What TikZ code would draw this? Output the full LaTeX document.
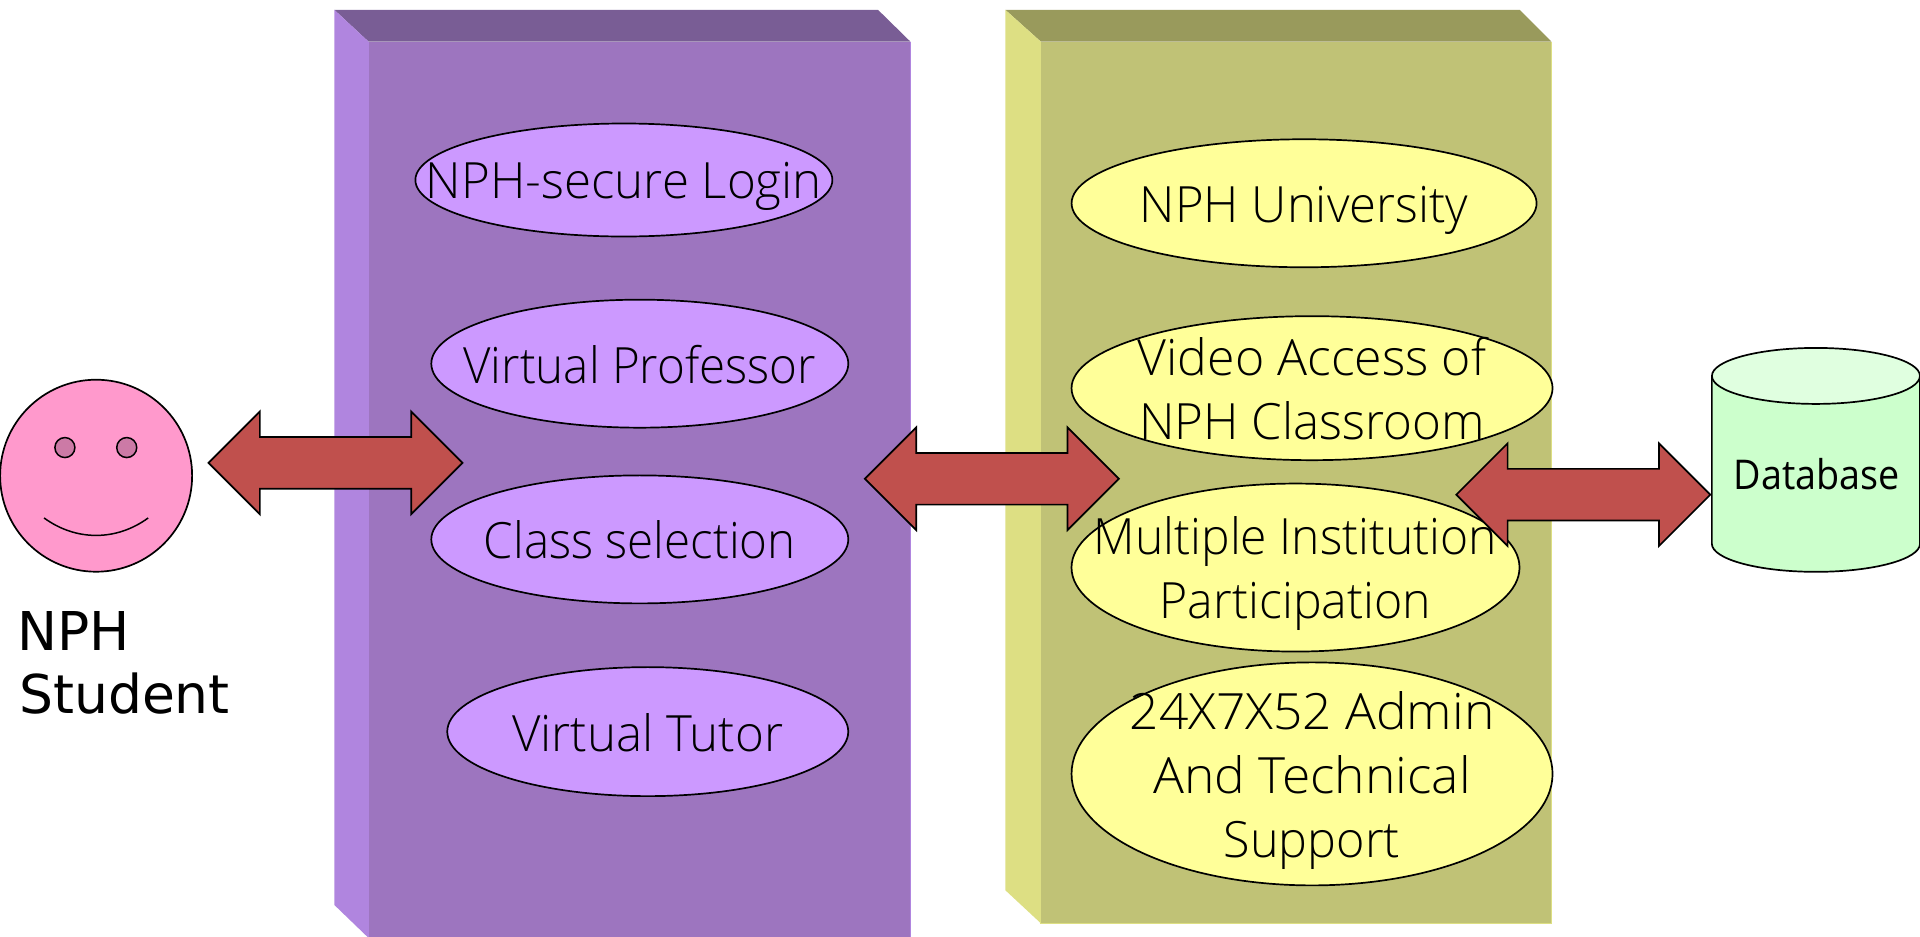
\documentclass[tikz,border=0pt]{standalone}
\usepackage{fontspec}
\usepackage{graphicx}
\usetikzlibrary{shapes.geometric,shapes.arrows}
\setmainfont{Open Sans Light}
\newfontfamily\labelfont{DejaVu Sans}
\newfontfamily\dbfont{Open Sans}
\definecolor{pfront}{HTML}{9D75BF}
\definecolor{ptop}{HTML}{795D95}
\definecolor{pside}{HTML}{B085DF}
\definecolor{yfront}{HTML}{C0C276}
\definecolor{ytop}{HTML}{999A5C}
\definecolor{yside}{HTML}{DDDF83}
\definecolor{pell}{HTML}{CC99FF}
\definecolor{yell}{HTML}{FFFF99}
\definecolor{arrowred}{HTML}{C0504D}
\definecolor{smileface}{HTML}{FF99CC}
\definecolor{smileeye}{HTML}{CC7AA6}
\definecolor{dbbody}{HTML}{CCFFCC}
\definecolor{dbtop}{HTML}{E0FFE0}
% text centred on the ellipse; #1 = drop of the last baseline below centre (px), #2 = lines
\newcommand{\elltext}[2]{\smash{\makebox[0pt]{\raisebox{-#1pt}{\parbox[b]{700pt}{\centering\fontsize{50}{64}\selectfont #2}}}}}
\newcommand{\sx}[2]{\scalebox{#1}[1]{#2}}
\tikzset{
  oval/.style={shape=ellipse,draw=black,line width=1.7pt,inner sep=0pt,outer sep=0pt},
  poval/.style={oval,fill=pell},
  yoval/.style={oval,fill=yell},
  blockarrow/.style={shape=double arrow,draw=black,line width=1.7pt,fill=arrowred,
    minimum height=254pt,minimum width=101pt,double arrow head extend=25.5pt,
    inner sep=0pt,text height=50pt,text depth=0pt,text width=0pt},
}
\begin{document}
\begin{tikzpicture}[x=1.22449pt,y=-1.22449pt]
\useasboundingbox (0,0) rectangle (1568,765.2);
% purple block
\fill[ptop] (273,8) -- (717,8) -- (743.5,34) -- (301,34) -- cycle;
\fill[pside] (273,8) -- (301,34) -- (301,766) -- (273,739) -- cycle;
\fill[pfront] (301,34) rectangle (743.5,766);
\draw[pside,line width=1pt] (301,34) -- (301,766);
\draw[pside,line width=1pt] (743.5,34) -- (743.5,766);
% yellow block
\fill[ytop] (821,8) -- (1241,8) -- (1267,34) -- (850,34) -- cycle;
\fill[yside] (821,8) -- (850,34) -- (850,754) -- (821,727) -- cycle;
\fill[yfront] (850,34) rectangle (1267,754);
\draw[yside,line width=1pt] (850,34) -- (850,754) -- (1267,754) -- (1267,34);
% purple ellipses
\node[poval,minimum width=417pt,minimum height=113pt] (login) at (509.5,147) {\elltext{18.5}{\sx{.985}{NPH-secure Login}}};
\node[poval,minimum width=417pt,minimum height=128pt] (prof) at (522.5,297) {\elltext{19.5}{\sx{.95}{Virtual Professor}}};
\node[poval,minimum width=417pt,minimum height=128pt] (class) at (522.5,440.5) {\elltext{19.5}{\sx{.95}{Class selection}}};
\node[poval,minimum width=401pt,minimum height=129pt] (tutor) at (529,597.5) {\elltext{19.5}{\sx{.985}{Virtual Tutor}}};
% yellow ellipses
\node[yoval,minimum width=465pt,minimum height=128pt] (univ) at (1065,166) {\elltext{19.5}{\sx{.98}{NPH University}}};
\node[yoval,minimum width=481pt,minimum height=144pt] (video) at (1071.5,317) {\elltext{51}{\sx{1}{Video Access of}\\\sx{.985}{NPH Classroom}}};
\node[yoval,minimum width=448pt,minimum height=168pt] (multi) at (1058,463.5) {\elltext{51}{\sx{.96}{Multiple Institution}\\\sx{.965}{Participation}}};
\node[yoval,minimum width=481pt,minimum height=223pt] (admin) at (1071.5,632) {\elltext{84}{\sx{1.03}{24X7X52 Admin}\\\sx{1.03}{And Technical}\\\sx{.97}{Support}}};
% smiley
\node[circle,draw=black,line width=1.7pt,fill=smileface,minimum size=192pt,inner sep=0pt] (face) at (78.5,388.5) {};
\node[circle,draw=black,line width=1.5pt,fill=smileeye,minimum size=20pt,inner sep=0pt] (eyeL) at (53,365.5) {};
\node[circle,draw=black,line width=1.5pt,fill=smileeye,minimum size=20pt,inner sep=0pt] (eyeR) at (103.5,365.5) {};
\draw[line width=1.5pt] (36,423) .. controls (62,442) and (95,442) .. (121,423);
\node[anchor=base west,inner sep=0pt,font=\labelfont\fontsize{53.5}{63}\selectfont] (student) at (14,531) {NPH};
\node[anchor=base west,inner sep=0pt,font=\labelfont\fontsize{53.5}{63}\selectfont] (student2) at (15.5,583) {Student};
% database
\fill[dbbody] (1398,307) -- (1398,444) arc[start angle=180,end angle=360,x radius=85,y radius=-23] -- (1568,307) -- cycle;
\draw[line width=1.7pt] (1398,307) -- (1398,444) arc[start angle=180,end angle=360,x radius=85,y radius=-23] -- (1568,307);
\node[shape=ellipse,draw=black,line width=1.7pt,fill=dbtop,minimum width=208pt,minimum height=56pt,inner sep=0pt] (dbcap) at (1483,307) {};
\node[inner sep=0pt,anchor=base,font=\dbfont\fontsize{41}{41}\selectfont] (db) at (1483.5,400) {\sx{.92}{Database}};
% arrows
\node[blockarrow] (arrowA) at (274,378) {};
\node[blockarrow] (arrowB) at (810,391) {};
\node[blockarrow] (arrowC) at (1293,404) {};
\end{tikzpicture}
\end{document}
